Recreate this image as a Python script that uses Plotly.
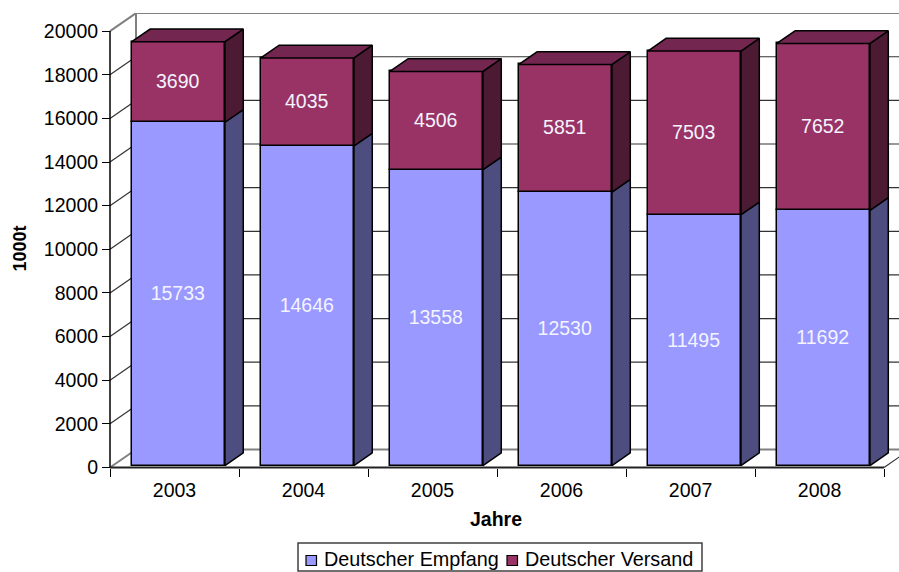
import plotly.graph_objects as go

YEARS = ["2003", "2004", "2005", "2006", "2007", "2008"]
EMPFANG = [15733, 14646, 13558, 12530, 11495, 11692]
VERSAND = [3690, 4035, 4506, 5851, 7503, 7652]
Y_TICKS = [0, 2000, 4000, 6000, 8000, 10000, 12000, 14000, 16000, 18000, 20000]
SERIES_NAMES = ["Deutscher Empfang", "Deutscher Versand"]

FONT = "Liberation Sans"
FONT_SIZE = 19.5

BLUE, BLUE_SIDE = "#9999FF", "#4D4D80"
RED, RED_SIDE, RED_TOP = "#993366", "#4D1A33", "#732650"
WALL_COLOR = "#808080"
GRID_COLOR = "#333333"

WIDTH, HEIGHT = 899, 572
# plot area is a little larger than the axes so the axis lines are not clipped
PLOT_L, PLOT_T, PLOT_B = 100, 13, 475
AXIS_L, AXIS_B = 110, 467.5

# 3-D look: offsets in axis units (x = categories, y = 1000t)
WALL_DX, WALL_DY = 0.2016, 825
BAR_DX, BAR_DY = 0.142, 582
FRONT_DX, FRONT_DY = 0.03, 90
BAR_WIDTH = 0.722

X_MIN, X_MAX = -0.5, 5.616
X_LEFT = X_MIN - (AXIS_L - PLOT_L) / 129
Y_MIN, Y_MAX = -344, 20830
x_pos = list(range(len(YEARS)))


def px(x):
    return (x - PLOT_L) / (WIDTH - PLOT_L)


def py(y):
    return (PLOT_B - y) / (PLOT_B - PLOT_T)


def side_face(left, y0, y1):
    return ([left, left + BAR_DX, left + BAR_DX, left, left, None],
            [y0, y0 + BAR_DY, y1 + BAR_DY, y1, y0, None])


def top_face(left, y):
    right = left + BAR_WIDTH
    return ([left, right, right + BAR_DX, left + BAR_DX, left, None],
            [y, y, y + BAR_DY, y + BAR_DY, y, None])


def face_trace(faces, color):
    xs, ys = [], []
    for fx, fy in faces:
        xs += fx
        ys += fy
    return go.Scatter(x=xs, y=ys, mode="lines", fill="toself", fillcolor=color,
                      line=dict(color="black", width=1.5), showlegend=False, hoverinfo="skip")


def line_shape(x0, y0, x1, y1, color, width, layer="below"):
    return dict(type="line", xref="x", yref="y", x0=x0, y0=y0, x1=x1, y1=y1,
                layer=layer, line=dict(color=color, width=width))


def paper_rect(x0, y0, x1, y1, fill, line_color, width):
    return dict(type="rect", xref="paper", yref="paper", x0=px(x0), x1=px(x1), y0=py(y0), y1=py(y1),
                fillcolor=fill, line=dict(color=line_color, width=width))


fig = go.Figure()

bases = [FRONT_DY] * len(YEARS)
tops1 = [b + v for b, v in zip(bases, EMPFANG)]
tops2 = [b + v for b, v in zip(tops1, VERSAND)]
centers = [x + FRONT_DX for x in x_pos]
lefts = [c - BAR_WIDTH / 2 for c in centers]
rights = [c + BAR_WIDTH / 2 for c in centers]

label_font = dict(family=FONT, size=FONT_SIZE, color="#F4F4FF")
fig.add_trace(go.Bar(x=centers, y=EMPFANG, base=bases, width=BAR_WIDTH, name=SERIES_NAMES[0],
                     marker=dict(color=BLUE, line=dict(color="black", width=1.5)),
                     text=EMPFANG, textposition="inside", insidetextanchor="middle",
                     textangle=0, textfont=label_font, showlegend=False))
fig.add_trace(go.Bar(x=centers, y=VERSAND, base=tops1, width=BAR_WIDTH, name=SERIES_NAMES[1],
                     marker=dict(color=RED, line=dict(color="black", width=1.5)),
                     text=VERSAND, textposition="inside", insidetextanchor="middle",
                     textangle=0, textfont=label_font, showlegend=False))

fig.add_trace(face_trace([side_face(r, b, t) for r, b, t in zip(rights, bases, tops1)], BLUE_SIDE))
fig.add_trace(face_trace([side_face(r, b, t) for r, b, t in zip(rights, tops1, tops2)], RED_SIDE))
fig.add_trace(face_trace([top_face(l, t) for l, t in zip(lefts, tops2)], RED_TOP))

# walls and gridlines sit behind the bars
back_x = X_MIN + WALL_DX
shapes = []
for tick in Y_TICKS:
    edge = tick in (Y_TICKS[0], Y_TICKS[-1])
    color, width = (WALL_COLOR, 2) if edge else (GRID_COLOR, 1.2)
    shapes.append(line_shape(X_MIN, tick, back_x, tick + WALL_DY, color, width))
    shapes.append(line_shape(back_x, tick + WALL_DY, X_MAX, tick + WALL_DY, color, width))
shapes.append(line_shape(back_x, WALL_DY, back_x, Y_TICKS[-1] + WALL_DY, WALL_COLOR, 2))
shapes.append(line_shape(len(YEARS) - 0.5, 0, len(YEARS) - 0.5 + WALL_DX, WALL_DY, GRID_COLOR, 1.2))

# front axis lines, y stops at the last tick and x at the last category
shapes.append(line_shape(X_MIN, 0, X_MIN, Y_TICKS[-1], "black", 1.5, layer="above"))
shapes.append(line_shape(X_MIN, 0, len(YEARS) - 0.5, 0, "#222222", 1.8, layer="above"))

# legend box, plotly's own legend has a wider key column than the original
shapes.append(paper_rect(298, 543, 702, 571, "white", "#404040", 1.5))
shapes.append(paper_rect(306, 555.5, 316.5, 565.5, BLUE, "black", 1.2))
shapes.append(paper_rect(507, 555.5, 517.5, 565.5, RED, "black", 1.2))

base_font = dict(family=FONT, size=FONT_SIZE, color="black")
legend_font = dict(family=FONT, size=19.8, color="black")
fig.update_layout(
    width=WIDTH, height=HEIGHT, barmode="overlay", bargap=0, showlegend=False,
    margin=dict(l=PLOT_L, r=0, t=PLOT_T, b=HEIGHT - PLOT_B, pad=0, autoexpand=False),
    paper_bgcolor="white", plot_bgcolor="white", font=base_font,
    shapes=shapes,
    xaxis=dict(range=[X_LEFT, X_MAX], anchor="free", position=py(AXIS_B),
               tickmode="array", tickvals=x_pos, ticktext=YEARS,
               ticks="outside", ticklen=5, tickcolor="rgba(0,0,0,0)", showgrid=False,
               showline=False, zeroline=False, tickfont=base_font,
               minor=dict(tickmode="array", tickvals=[x - 0.5 for x in x_pos] + [x_pos[-1] + 0.5],
                          ticks="outside", ticklen=8, tickcolor="black", tickwidth=1.2, showgrid=False)),
    yaxis=dict(range=[Y_MIN, Y_MAX], anchor="free", position=px(AXIS_L),
               tickmode="array", tickvals=Y_TICKS, tickformat="d", ticks="outside",
               ticklen=8, tickcolor="black", tickwidth=1.2, showgrid=False, showline=False,
               zeroline=False, tickfont=base_font),
    annotations=[
        dict(text="<b>Jahre</b>", xref="paper", yref="paper", x=px(496), y=py(519), yanchor="middle",
             showarrow=False, font=dict(family=FONT, size=19.5, color="black")),
        dict(text="<b>1000t</b>", xref="paper", yref="paper", x=px(19), y=py(248.5), textangle=-90,
             xanchor="center", yanchor="middle", showarrow=False,
             font=dict(family=FONT, size=18, color="black")),
        dict(text=SERIES_NAMES[0], xref="paper", yref="paper", x=px(322), y=py(559), xanchor="left",
             yanchor="middle", showarrow=False, font=legend_font),
        dict(text=SERIES_NAMES[1], xref="paper", yref="paper", x=px(523), y=py(559), xanchor="left",
             yanchor="middle", showarrow=False, font=legend_font),
    ],
)

fig.write_html("out.html", config=dict(displayModeBar=False),
               post_script="document.body.style.margin='0';")
